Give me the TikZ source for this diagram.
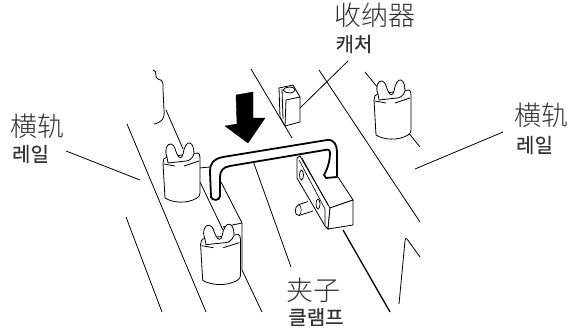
\documentclass[tikz,border=0pt]{standalone}
\usepackage{fontspec}
\newfontfamily\zhfont{Noto Sans CJK SC Light}
\newfontfamily\krfont[FakeBold=0.25]{Noto Sans CJK KR}
\usetikzlibrary{positioning}

\begin{document}
\begin{tikzpicture}[x=1pt,y=-1pt,
    rail/.style={line width=0.8pt},
    leader/.style={line width=0.8pt},
    part/.style={line width=0.8pt},
    zhlabel/.style={inner sep=0pt,text=black!80,font=\zhfont\fontsize{27}{27}\selectfont},
    krlabel/.style={inner sep=0pt,text=black!80,font=\krfont\fontsize{20}{20}\selectfont},
    cupshape/.pic={
        \draw[part,fill=white] (-18,-17) -- (-16,18) .. controls (-8,23) and (6,24) .. (16,18)
            .. controls (18,17) and (19,15) .. (19,13) -- (19,-22) .. controls (19,-25) and (18,-27) .. (17,-27)
            -- (-14,-23) .. controls (-17,-23) and (-18,-20) .. (-18,-17) -- cycle;
        \draw[part,fill=white] (-14,-23) .. controls (-17,-30) and (-14,-37) .. (-10,-36)
            .. controls (-6,-35) and (-6,-30) .. (-4,-26) .. controls (-2,-21) and (1,-21) .. (2,-26)
            .. controls (3,-33) and (6,-38) .. (9,-37) .. controls (12,-36) and (13,-31) .. (13,-26)
            .. controls (11,-21) and (8,-19) .. (5,-19) -- (-13,-17) -- cycle;
        \draw[part] (-17,-16) -- (-6,-14);
        \draw[part] (3,-14) -- (18,-19);
    }]
\useasboundingbox (0,0) rectangle (580,332);

\node[zhlabel] (railLzh) at (37.5,126) {横轨};
\node[krlabel] (railLkr) at (30.5,154) {레일};
\node[zhlabel] (railRzh) at (541,115) {横轨};
\node[krlabel] (railRkr) at (534.5,145) {레일};
\node[zhlabel] (catcherzh) at (374.5,15) {收纳器};
\node[krlabel] (catcherkr) at (354,44) {캐처};
\node[zhlabel] (clampzh) at (313,290) {夹子};
\node[krlabel] (clampkr) at (316,317) {클램프};

\coordinate (leadLa) at (66,151);
\coordinate (leadLb) at (140,180);
\coordinate (leadRa) at (503,132);
\coordinate (leadRb) at (415,169);
\coordinate (leadCa) at (348,61);
\coordinate (leadCb) at (300,108);
\coordinate (leadMa) at (252,158);
\coordinate (leadMb) at (291,267);

\draw[leader] (leadLa) -- (leadLb);
\draw[leader] (leadRa) -- (leadRb);
\draw[leader] (leadCa) -- (leadCb);
\draw[leader] (leadMa) -- (leadMb);

\draw[rail] (127,124) -- (206,312);
\draw[rail] (126,217) -- (162,312);
\draw[rail] (166,110) -- (183,149);
\draw[rail] (200,182) -- (223,230);
\draw[rail] (242,270) -- (262,312);
\draw[rail] (221,182) -- (242,223) -- (242,270);
\draw[rail] (223,227) -- (242,223);
\draw[rail] (199,168) -- (210,167);
\draw[rail] (251,69) -- (292,138);
\draw[rail] (319,70) -- (420,222);
\draw[rail] (365,72) -- (378,88);
\draw[rail] (407,131) -- (420,147);
\draw[rail] (399,304) -- (405,241) .. controls (405.5,238) and (406,238) .. (407,239) -- (420,257);
\draw[line width=1.3pt] (343,230) -- (390,312);
\draw[rail] (153,70) .. controls (158,71) and (154,78) .. (158,79) .. controls (164,80) and (163,84) .. (163,90)
    -- (164,110) .. controls (165,119) and (162,122) .. (154,124);

\pic at (181,180) {cupshape};
\pic[xscale=1.08,yscale=1.02] at (220,262) {cupshape};
\pic at (392,117) {cupshape};

\draw[fill=black] (236,95) -- (253,92) -- (253,118) -- (265,118) -- (248,143) -- (225,126) -- (237,124) -- cycle;

\draw[part,fill=white] (279,88) -- (293,85) -- (300,97) -- (300,122) -- (285,126) -- (280,117) -- cycle;
\draw[part] (286,100) -- (300,97);
\draw[part] (286,100) -- (285,126);
\draw[part] (282,89) -- (283,119);
\draw[part] (283,90) .. controls (288,95) and (294,93) .. (295,90) .. controls (295,86) and (285,86) .. (283,90);

\fill[white] (300,156) -- (338,177) -- (353,200) -- (330,208) -- cycle;
\draw[part] (338,177) -- (353,200) -- (330,208);
\draw[part,fill=white] (297,158) -- (297,178) -- (325,226) -- (328,229) -- (330,208) -- (300,156) -- cycle;
\draw[part,fill=white] (330,208) -- (353,200) -- (353,225) -- (328,229) -- cycle;
\draw[line width=0.6pt] (302,158) -- (328,205);
\draw[line width=0.6pt] (299,160) -- (325,209) -- (325,225);
\draw[line width=0.7pt,fill=white] (301.5,175) ellipse (2 and 5);
\draw[line width=0.7pt,fill=white] (318,204) ellipse (2 and 5);
\draw[part,fill=white] (308,201.5) -- (299,204.5) .. controls (294,206) and (294,216) .. (299,215.5) -- (313,211);
\draw[line width=0.6pt] (299,204.5) .. controls (302,207) and (302,213) .. (299,215.5);

\draw[line width=1.8pt,fill=white] (211,197) -- (210,172) .. controls (210,162) and (214,159) .. (223,157)
    -- (327,140) .. controls (334,139) and (337,145) .. (337,152) -- (337,177) -- (326,178) -- (324,175)
    .. controls (328,168) and (330,160) .. (330,153) .. controls (330,150) and (328,149) .. (325,150)
    -- (230,166) .. controls (223,167) and (220,171) .. (220,177) -- (220,196) .. controls (220,201) and (212,201) .. (211,197) -- cycle;
\end{tikzpicture}
\end{document}
